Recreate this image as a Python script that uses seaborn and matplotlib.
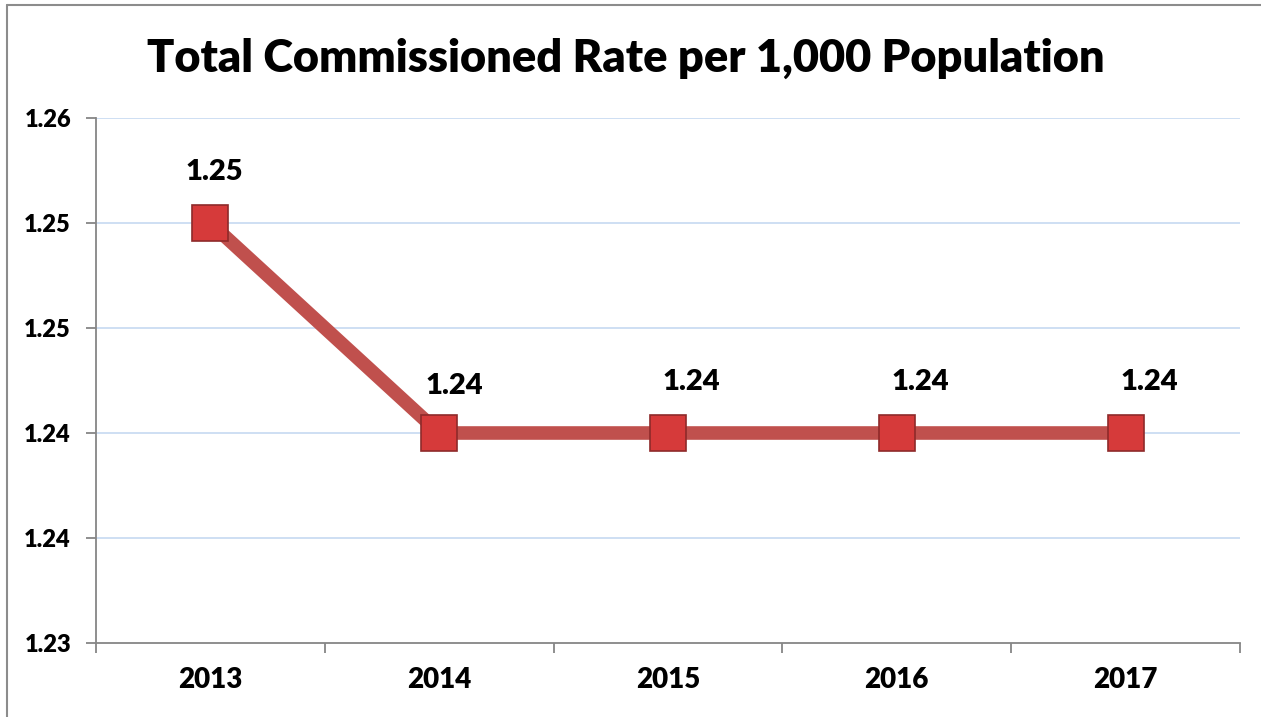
import matplotlib
matplotlib.use("Agg")
import matplotlib.pyplot as plt
import seaborn as sns
import pandas as pd
from matplotlib.lines import Line2D

years = ["2013", "2014", "2015", "2016", "2017"]
rates = [1.250, 1.240, 1.240, 1.240, 1.240]
point_labels = ["1.25", "1.24", "1.24", "1.24", "1.24"]
y_ticks = [1.230, 1.235, 1.240, 1.245, 1.250, 1.255]
y_tick_labels = ["1.23", "1.24", "1.24", "1.25", "1.25", "1.26"]
title = "Total Commissioned Rate per 1,000 Population"

sns.set_theme(style="white")
plt.rcParams["font.family"] = ["Lato", "DejaVu Sans"]

df = pd.DataFrame({"year": years, "rate": rates, "x": range(len(years))})

fig = plt.figure(figsize=(12.61, 7.17), dpi=100)
ax = fig.add_axes([96/1261, 1-643/717, (1240-96)/1261, (643-118)/717])

sns.lineplot(data=df, x="x", y="rate", ax=ax, color="#C0504D", linewidth=9.8,
             marker="s", markersize=26, markerfacecolor="#D63A3A",
             markeredgecolor="#8E2A2A", markeredgewidth=1.2, zorder=3)

ax.set_xlim(-0.5, len(years) - 0.5)
ax.set_ylim(y_ticks[0], y_ticks[-1])
ax.set_yticks(y_ticks)
ax.set_yticklabels(y_tick_labels)
ax.set_xticks(range(len(years)))
ax.set_xticklabels(years)
ax.set_xticks([i - 0.5 for i in range(len(years) + 1)], minor=True)
ax.set_xlabel("")
ax.set_ylabel("")

for y in y_ticks[1:]:
    ax.axhline(y, color="#C6D9F1", linewidth=1.2, zorder=1)

for s in ["top", "right"]:
    ax.spines[s].set_visible(False)
for s in ["left", "bottom"]:
    ax.spines[s].set_color("#868686")
    ax.spines[s].set_linewidth(1.3)

ax.tick_params(axis="y", which="major", direction="out", length=7, width=1.3,
               color="#868686", left=True, labelsize=17, pad=11)
ax.tick_params(axis="x", which="major", length=0, labelsize=20, pad=17)
ax.tick_params(axis="x", which="minor", direction="out", length=7, width=1.3,
               color="#868686", bottom=True)
for lbl in ax.get_yticklabels() + ax.get_xticklabels():
    lbl.set_fontweight("heavy")
    lbl.set_color("black")

label_offsets = [(3, 37), (11, 34), (17, 37), (17, 37), (17, 37)]
for i, (v, t) in enumerate(zip(rates, point_labels)):
    ax.annotate(t, (i, v), xytext=label_offsets[i], textcoords="offset points",
                ha="center", va="center", fontsize=21, fontweight="heavy",
                color="black")

fig.text(626/1261, 1-58/717, title, ha="center", va="center",
         fontsize=32.5, fontweight="heavy", color="black")

# outer chart border
fig.add_artist(Line2D([7/1261, 7/1261], [0, 1-5/717], transform=fig.transFigure,
                      color="#8C8C8C", linewidth=1.5))
fig.add_artist(Line2D([7/1261, 1], [1-5/717, 1-5/717], transform=fig.transFigure,
                      color="#8C8C8C", linewidth=1.5))

fig.savefig("out.png", dpi=100)
